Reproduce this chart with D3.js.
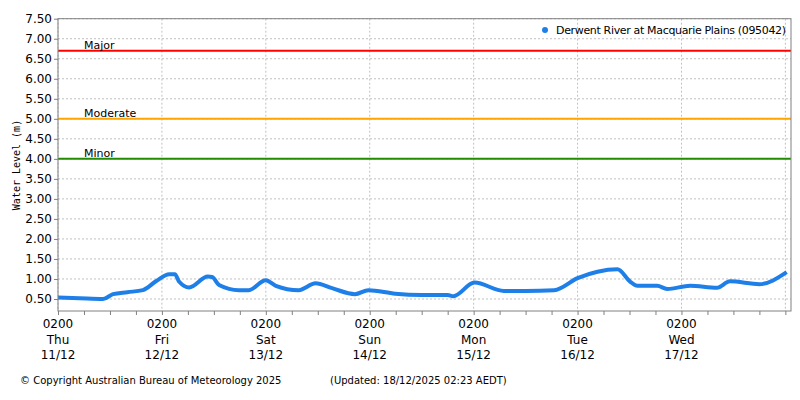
<!DOCTYPE html><html><head><script src="https://cdn.jsdelivr.net/npm/d3@7"></script>
<style>body{margin:0;background:#fff}text{font-family:"DejaVu Sans",sans-serif;font-size:11px;fill:#000}</style></head><body>
<svg id="c" width="800" height="400"></svg>
<script>
const seriesName="Derwent River at Macquarie Plains (095042)";
const hours=[0,5,10.4,12.7,16,19.6,22.7,25.7,27,28,30.3,34.6,35.6,37.2,41.8,44,48,50.3,55.6,59.5,63.3,68.6,71.7,77.9,84,90,91.3,96.2,103,108,114.6,120,124.6,129.2,132.2,133.8,138.4,140.7,146,152.2,155.2,162,168.3];
const levels=[0.54,0.52,0.50,0.62,0.67,0.72,0.95,1.12,1.12,0.93,0.79,1.06,1.05,0.85,0.72,0.72,0.97,0.83,0.72,0.89,0.77,0.62,0.72,0.63,0.60,0.60,0.57,0.91,0.70,0.70,0.72,1.02,1.18,1.24,0.93,0.83,0.83,0.75,0.83,0.78,0.94,0.87,1.17];
const thresholds=[{name:"Major",v:6.7,c:"#ff0000"},{name:"Moderate",v:5.0,c:"#ffa500"},{name:"Minor",v:4.0,c:"#228b00"}];
const dayLabels=[["Thu","11/12"],["Fri","12/12"],["Sat","13/12"],["Sun","14/12"],["Mon","15/12"],["Tue","16/12"],["Wed","17/12"]];
const yTicks=d3.range(0.5,7.51,0.5);
const svg=d3.select("#c");
const x=d3.scaleLinear().domain([0,169.3]).range([58,791]);
const y=d3.scaleLinear().domain([0.2,7.5]).range([311,18.7]);
const g=svg.append("g");
yTicks.forEach(t=>g.append("line").attr("x1",58).attr("x2",791).attr("y1",y(t)).attr("y2",y(t)).attr("stroke","#c0c0c0").attr("stroke-dasharray","2,2"));
d3.range(0,169,24).forEach(h=>g.append("line").attr("x1",x(h)).attr("x2",x(h)).attr("y1",18.7).attr("y2",311).attr("stroke","#c0c0c0").attr("stroke-dasharray","2,2"));
thresholds.forEach(t=>{g.append("line").attr("x1",58).attr("x2",791).attr("y1",y(t.v)).attr("y2",y(t.v)).attr("stroke",t.c).attr("stroke-width",2);
g.append("text").attr("x",84).attr("y",y(t.v)-2).text(t.name);});
g.append("path").datum(hours.map((h,i)=>[h,levels[i]])).attr("fill","none").attr("stroke","#1e7fe8").attr("stroke-width",4)
 .attr("d",d3.line().x(d=>x(d[0])).y(d=>y(d[1])).curve(d3.curveMonotoneX));
g.append("rect").attr("x",58).attr("y",18.7).attr("width",733).attr("height",292.3).attr("fill","none").attr("stroke","#808080");
const ya=svg.append("g").attr("transform","translate(58,0)").call(d3.axisLeft(y).tickValues(yTicks).tickFormat(d3.format(".2f")).tickSize(4));
ya.select(".domain").remove();ya.selectAll("line").attr("stroke","#808080");ya.selectAll("text").style("font-size","12px").attr("dx","1");
const xa=svg.append("g").attr("transform","translate(0,311)").call(d3.axisBottom(x).tickValues(d3.range(0,169,6)).tickFormat("").tickSize(4));
xa.select(".domain").remove();xa.selectAll("line").attr("stroke","#808080");
dayLabels.forEach((d,i)=>{const t=svg.append("text").attr("x",x(i*24)).attr("text-anchor","middle").style("font-size","12px");
 ["0200",d[0],d[1]].forEach((s,j)=>t.append("tspan").attr("x",x(i*24)).attr("y",328+j*15.5).text(s));});
svg.append("text").attr("transform","translate(20,165) rotate(-90)").attr("text-anchor","middle").style("font-family","DejaVu Sans Mono").style("font-size","10px").text("Water Level (m)");
svg.append("circle").attr("cx",545).attr("cy",30).attr("r",3).attr("fill","#1e7fe8");
svg.append("text").attr("x",786).attr("y",34).attr("text-anchor","end").attr("textLength",230).style("font-size","11px").text(seriesName);
svg.append("text").attr("x",20).attr("y",384).style("font-size","10px").text("© Copyright Australian Bureau of Meteorology 2025");
svg.append("text").attr("x",330).attr("y",384).style("font-size","10px").text("(Updated: 18/12/2025 02:23 AEDT)");
</script></body></html>
